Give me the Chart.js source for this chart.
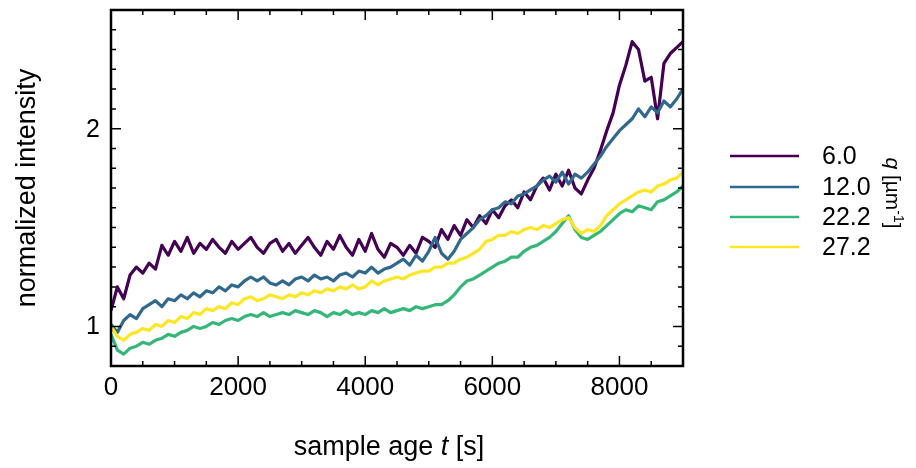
<!DOCTYPE html>
<html>
<head>
<meta charset="utf-8">
<script src="https://cdn.jsdelivr.net/npm/chart.js@4.4.1/dist/chart.umd.min.js"></script>
<style>
  html, body { margin: 0; padding: 0; background: #fff; }
  canvas { display: block; }
</style>
</head>
<body>
<canvas id="chart" width="916" height="468" style="width:916px;height:468px"></canvas>
<script>
// sample age t [s]
const times = [
  0, 100, 200, 300, 400, 500, 600, 700, 800, 900,
  1000, 1100, 1200, 1300, 1400, 1500, 1600, 1700, 1800, 1900,
  2000, 2100, 2200, 2300, 2400, 2500, 2600, 2700, 2800, 2900,
  3000, 3100, 3200, 3300, 3400, 3500, 3600, 3700, 3800, 3900,
  4000, 4100, 4200, 4300, 4400, 4500, 4600, 4700, 4800, 4900,
  5000, 5100, 5200, 5300, 5400, 5500, 5600, 5700, 5800, 5900,
  6000, 6100, 6200, 6300, 6400, 6500, 6600, 6700, 6800, 6900,
  7000, 7100, 7200, 7300, 7400, 7500, 7600, 7700, 7800, 7900,
  8000, 8100, 8200, 8300, 8400, 8500, 8600, 8700, 8800, 8900, 9000
];

// normalized intensity per q
const q6 = [
  1.08, 1.20, 1.14, 1.26, 1.30, 1.27, 1.32, 1.29, 1.41, 1.36,
  1.43, 1.38, 1.45, 1.37, 1.42, 1.39, 1.44, 1.40, 1.37, 1.43,
  1.39, 1.42, 1.45, 1.40, 1.37, 1.42, 1.44, 1.38, 1.42, 1.37,
  1.41, 1.45, 1.40, 1.36, 1.43, 1.39, 1.46, 1.40, 1.36, 1.44,
  1.38, 1.47, 1.39, 1.35, 1.42, 1.40, 1.36, 1.41, 1.37, 1.45,
  1.43, 1.40, 1.49, 1.44, 1.51, 1.46, 1.54, 1.50, 1.56, 1.52,
  1.59, 1.55, 1.61, 1.64, 1.60, 1.68, 1.64, 1.71, 1.75, 1.69,
  1.77, 1.71, 1.79, 1.70, 1.67, 1.74, 1.80, 1.89, 1.99, 2.08,
  2.22, 2.32, 2.44, 2.40, 2.24, 2.26, 2.05, 2.33, 2.38, 2.41, 2.44
];
const q12 = [
  1.01, 0.97, 1.03, 1.06, 1.04, 1.09, 1.11, 1.13, 1.10, 1.14,
  1.13, 1.16, 1.14, 1.17, 1.15, 1.18, 1.17, 1.20, 1.18, 1.21,
  1.20, 1.23, 1.25, 1.23, 1.25, 1.22, 1.21, 1.23, 1.21, 1.24,
  1.25, 1.23, 1.26, 1.24, 1.25, 1.23, 1.26, 1.27, 1.25, 1.28,
  1.27, 1.30, 1.27, 1.29, 1.30, 1.32, 1.34, 1.31, 1.36, 1.33,
  1.38, 1.45, 1.37, 1.34, 1.38, 1.44, 1.47, 1.50, 1.54, 1.56,
  1.59, 1.60, 1.63, 1.62, 1.66, 1.67, 1.69, 1.71, 1.74, 1.76,
  1.73, 1.78, 1.72, 1.77, 1.75, 1.78, 1.82, 1.86, 1.91, 1.95,
  1.99, 2.02, 2.05, 2.10, 2.06, 2.11, 2.08, 2.14, 2.11, 2.15, 2.20
];
const q22 = [
  0.96, 0.88, 0.86, 0.89, 0.90, 0.92, 0.91, 0.93, 0.94, 0.96,
  0.95, 0.97, 0.98, 1.00, 0.99, 1.00, 1.02, 1.01, 1.03, 1.04,
  1.03, 1.05, 1.06, 1.05, 1.07, 1.05, 1.06, 1.07, 1.06, 1.08,
  1.07, 1.06, 1.08, 1.07, 1.05, 1.07, 1.06, 1.08, 1.06, 1.07,
  1.06, 1.08, 1.07, 1.09, 1.07, 1.08, 1.09, 1.08, 1.10, 1.09,
  1.10, 1.11, 1.11, 1.13, 1.16, 1.20, 1.23, 1.24, 1.26, 1.28,
  1.30, 1.32, 1.33, 1.35, 1.35, 1.38, 1.40, 1.41, 1.43, 1.45,
  1.48, 1.52, 1.56, 1.49, 1.45, 1.44, 1.46, 1.48, 1.51, 1.54,
  1.57, 1.59, 1.58, 1.61, 1.60, 1.59, 1.63, 1.64, 1.66, 1.68, 1.71
];
const q27 = [
  1.00, 0.95, 0.93, 0.96, 0.97, 0.99, 0.98, 1.01, 1.00, 1.03,
  1.02, 1.05, 1.04, 1.07, 1.06, 1.09, 1.08, 1.10, 1.09, 1.12,
  1.11, 1.14, 1.15, 1.13, 1.14, 1.16, 1.15, 1.14, 1.16, 1.15,
  1.17, 1.16, 1.18, 1.17, 1.19, 1.18, 1.20, 1.19, 1.21, 1.19,
  1.20, 1.23, 1.21, 1.23, 1.24, 1.25, 1.24, 1.26, 1.27, 1.28,
  1.28, 1.30, 1.30, 1.32, 1.32, 1.34, 1.35, 1.37, 1.39, 1.43,
  1.44, 1.46, 1.46, 1.48, 1.47, 1.49, 1.50, 1.49, 1.51, 1.50,
  1.52, 1.54, 1.55, 1.50, 1.47, 1.49, 1.48, 1.51, 1.56, 1.59,
  1.62, 1.64, 1.66, 1.68, 1.69, 1.68, 1.71, 1.72, 1.74, 1.75, 1.78
];

const qLabels = ["6.0", "12.0", "22.2", "27.2"];
const colors = ["#440154", "#31688e", "#35b779", "#fde725"];
const xTicks = [0, 2000, 4000, 6000, 8000];
const yTicks = [1, 2];

const FONT = '"Liberation Sans", Arial, Helvetica, sans-serif';

function pts(ys) {
  return times.map((t, i) => ({ x: t, y: ys[i] }));
}

const series = [q6, q12, q22, q27];

const axesPlugin = {
  id: "axesPlugin",
  afterDraw(chart) {
    const ctx = chart.ctx;
    const a = chart.chartArea;
    const xs = chart.scales.x;
    const ys = chart.scales.y;
    ctx.save();
    ctx.strokeStyle = "#000";
    ctx.fillStyle = "#000";

    // inward ticks on all four sides
    ctx.lineWidth = 1.5;
    ctx.beginPath();
    for (let v = 0; v <= 9000; v += 500) {
      const px = xs.getPixelForValue(v);
      const len = v % 2000 === 0 ? 10 : 5;
      ctx.moveTo(px, a.bottom); ctx.lineTo(px, a.bottom - len);
      ctx.moveTo(px, a.top); ctx.lineTo(px, a.top + len);
    }
    for (let k = 8; k <= 26; k++) {
      const v = k / 10;
      const py = ys.getPixelForValue(v);
      const len = k % 10 === 0 ? 10 : 5;
      ctx.moveTo(a.left, py); ctx.lineTo(a.left + len, py);
      ctx.moveTo(a.right, py); ctx.lineTo(a.right - len, py);
    }
    ctx.stroke();

    // frame
    ctx.lineWidth = 2.5;
    ctx.strokeRect(a.left, a.top, a.right - a.left, a.bottom - a.top);

    // tick labels
    ctx.font = "26px " + FONT;
    ctx.textAlign = "center";
    ctx.textBaseline = "middle";
    xTicks.forEach(v => ctx.fillText(String(v), xs.getPixelForValue(v), a.bottom + 22));
    ctx.font = "25px " + FONT;
    ctx.textAlign = "right";
    yTicks.forEach(v => ctx.fillText(String(v), a.left - 11, ys.getPixelForValue(v) + 1));

    // x title with italic t
    ctx.textAlign = "left";
    ctx.textBaseline = "alphabetic";
    const p1 = "sample age ", p2 = "t", p3 = " [s]";
    ctx.font = "27px " + FONT;
    const w1 = ctx.measureText(p1).width, w3 = ctx.measureText(p3).width;
    ctx.font = "italic 27px " + FONT;
    const w2 = ctx.measureText(p2).width;
    let x0 = 389 - (w1 + w2 + w3) / 2;
    const by = 455;
    ctx.font = "27px " + FONT;
    ctx.fillText(p1, x0, by);
    ctx.font = "italic 27px " + FONT;
    ctx.fillText(p2, x0 + w1, by);
    ctx.font = "27px " + FONT;
    ctx.fillText(p3, x0 + w1 + w2, by);

    // y title
    ctx.save();
    ctx.translate(28, (a.top + a.bottom) / 2);
    ctx.rotate(-Math.PI / 2);
    ctx.textAlign = "center";
    ctx.textBaseline = "middle";
    ctx.font = "27px " + FONT;
    ctx.fillText("normalized intensity", 0, 0);
    ctx.restore();

    // legend
    const legY = [156, 187, 217, 247];
    ctx.lineWidth = 2.5;
    qLabels.forEach((lab, i) => {
      ctx.strokeStyle = colors[i];
      ctx.beginPath();
      ctx.moveTo(730, legY[i]);
      ctx.lineTo(799, legY[i]);
      ctx.stroke();
      ctx.fillStyle = "#000";
      ctx.font = "25px " + FONT;
      ctx.textAlign = "left";
      ctx.textBaseline = "middle";
      ctx.fillText(lab, 822, legY[i] + 1);
    });

    // legend title q [µm⁻¹], rotated clockwise
    ctx.save();
    ctx.translate(892, 193);
    ctx.rotate(Math.PI / 2);
    ctx.fillStyle = "#000";
    ctx.textBaseline = "middle";
    ctx.textAlign = "left";
    const parts = [
      ["italic 21px " + FONT, "q", 0],
      ["21px " + FONT, " [µm", 0],
      ["14px " + FONT, "-1", -6],
      ["21px " + FONT, "]", 0]
    ];
    let tw = 0;
    parts.forEach(p => { ctx.font = p[0]; tw += ctx.measureText(p[1]).width; });
    let cx = -tw / 2;
    parts.forEach(p => {
      ctx.font = p[0];
      ctx.fillText(p[1], cx, p[2]);
      cx += ctx.measureText(p[1]).width;
    });
    ctx.restore();

    ctx.restore();
  }
};

new Chart(document.getElementById("chart"), {
  type: "line",
  data: {
    datasets: series.map((s, i) => ({
      label: qLabels[i],
      data: pts(s),
      borderColor: colors[i],
      borderWidth: 3.2,
      borderJoinStyle: "round",
      pointRadius: 0,
      tension: 0,
      fill: false,
      order: 4 - i
    }))
  },
  options: {
    responsive: false,
    animation: false,
    devicePixelRatio: 1,
    layout: { padding: { left: 111, right: 233, top: 10, bottom: 102 } },
    plugins: { legend: { display: false }, tooltip: { enabled: false } },
    scales: {
      x: { type: "linear", min: 0, max: 9000, display: false },
      y: { type: "linear", min: 0.8, max: 2.6, display: false }
    }
  },
  plugins: [axesPlugin]
});
</script>
</body>
</html>
